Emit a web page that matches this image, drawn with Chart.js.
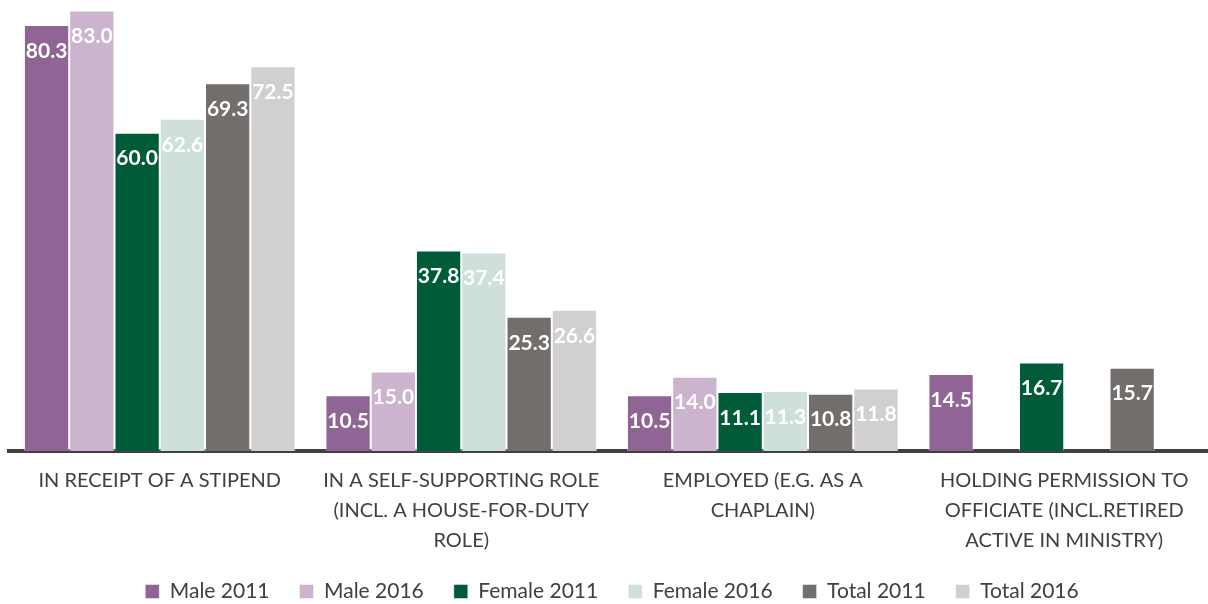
<!DOCTYPE html>
<html>
<head>
<meta charset="utf-8">
<script src="https://cdn.jsdelivr.net/npm/chart.js@4/dist/chart.umd.min.js"></script>
<style>
  html, body { margin: 0; padding: 0; background: #fff; overflow: hidden; }
  #wrap { width: 1215px; height: 604px; position: relative; }
</style>
</head>
<body>
<div id="wrap"><canvas id="chart"></canvas></div>
<script>
// categories (wrapped the way they print under the axis)
const categories = [
  ['IN RECEIPT OF A STIPEND'],
  ['IN A SELF-SUPPORTING ROLE', '(INCL. A HOUSE-FOR-DUTY', 'ROLE)'],
  ['EMPLOYED (E.G. AS A', 'CHAPLAIN)'],
  ['HOLDING PERMISSION TO', 'OFFICIATE (INCL.RETIRED', 'ACTIVE IN MINISTRY)']
];

const male2011 = [80.3, 10.5, 10.5, 14.5];
const male2016 = [83.0, 15.0, 14.0, null];
const female2011 = [60.0, 37.8, 11.1, 16.7];
const female2016 = [62.6, 37.4, 11.3, null];
const total2011 = [69.3, 25.3, 10.8, 15.7];
const total2016 = [72.5, 26.6, 11.8, null];

const FONT = 'Lato, "Open Sans", sans-serif';
const TEXT = '#404040';

function series(label, data, color) {
  return {
    label: label,
    data: data,
    backgroundColor: color,
    borderColor: 'rgba(255,255,255,0.45)',
    borderWidth: 1,
    categoryPercentage: 0.901,
    barPercentage: 1
  };
}

// white value written just inside the top of every bar
const barValues = {
  id: 'barValues',
  afterDatasetsDraw(chart) {
    const ctx = chart.ctx;
    ctx.save();
    ctx.font = 'bold 21px ' + FONT;
    ctx.fillStyle = '#ffffff';
    ctx.textAlign = 'center';
    ctx.textBaseline = 'middle';
    chart.data.datasets.forEach((ds, i) => {
      const meta = chart.getDatasetMeta(i);
      if (meta.hidden) return;
      meta.data.forEach((bar, j) => {
        const v = ds.data[j];
        if (v === null || v === undefined) return;
        ctx.fillText(v.toFixed(1), bar.x, bar.y + 26);
      });
    });
    ctx.restore();
  }
};

new Chart(document.getElementById('chart'), {
  type: 'bar',
  data: {
    labels: categories,
    datasets: [
      series('Male 2011', male2011, '#916496'),
      series('Male 2016', male2016, '#ccb4cf'),
      series('Female 2011', female2011, '#005b38'),
      series('Female 2016', female2016, '#cfe0da'),
      series('Total 2011', total2011, '#726e6c'),
      series('Total 2016', total2016, '#d1cfcf')
    ]
  },
  options: {
    responsive: true,
    maintainAspectRatio: false,
    animation: false,
    layout: { padding: { left: 9, right: 0, top: 0, bottom: -8 } },
    plugins: {
      tooltip: { enabled: false },
      legend: {
        position: 'bottom',
        labels: {
          color: TEXT,
          font: { family: FONT, size: 21 },
          boxWidth: 14,
          boxHeight: 14,
          padding: 30
        }
      }
    },
    scales: {
      x: {
        z: 1, // axis line over the bar bottoms
        grid: { display: false, drawTicks: false },
        border: { display: true, color: '#404040', width: 4 },
        ticks: {
          color: TEXT,
          font: { family: FONT, size: 20, lineHeight: 1.5 },
          maxRotation: 0,
          autoSkip: false,
          padding: 15
        },
        // the legend sits closer under the wrapped labels
        afterFit(scale) {
          scale.height -= 20;
        }
      },
      y: {
        display: false,
        min: 0,
        max: 85
      }
    }
  },
  plugins: [barValues]
});
</script>
</body>
</html>
